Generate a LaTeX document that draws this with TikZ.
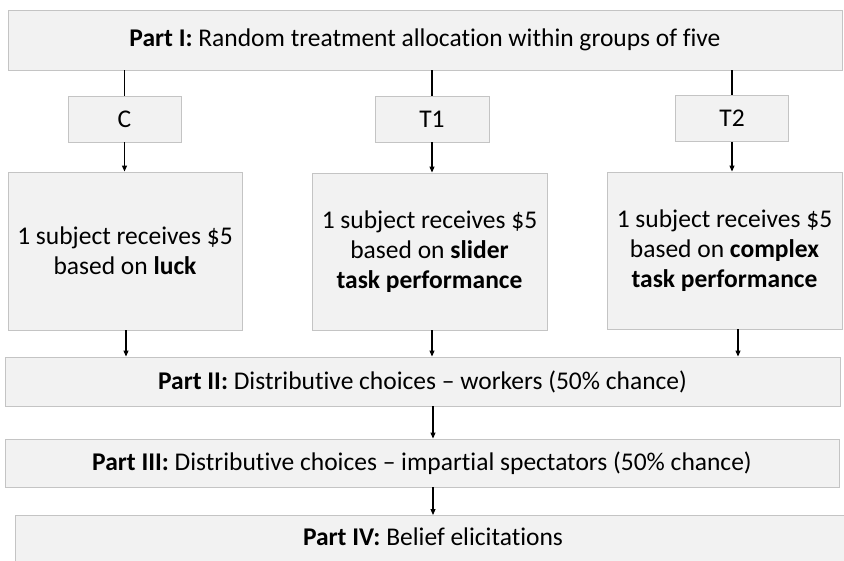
\documentclass[tikz,border=0pt]{standalone}
\usepackage{fontspec}
\setmainfont[Ligatures={NoCommon}]{Carlito}
\usetikzlibrary{arrows.meta,calc}
\definecolor{boxfill}{HTML}{F2F2F2}
\definecolor{boxline}{HTML}{C4C4C4}
\tikzset{
  box/.style={draw=boxline, fill=boxfill, line width=0.9pt, inner sep=0pt, align=center,
    font=\fontsize{25.5}{30}\selectfont},
  link/.style={line width=1.1pt, black},
  arr/.style={link, -{Triangle[length=6pt,width=5pt]}},
}
\begin{document}
\begin{tikzpicture}[x=1pt,y=-1pt]
\useasboundingbox (0,0) rectangle (844,560);
\begin{scope}
\clip (0,0) rectangle (844,560);
\node[box, minimum width=834pt, minimum height=60pt] (p1) at (425,40) {\textbf{Part I:} Random treatment allocation within groups of five};
\node[box, minimum width=113pt, minimum height=46pt] (c) at (124.5,119) {C};
\node[box, minimum width=114pt, minimum height=46pt] (t1) at (432,119) {T1};
\node[box, minimum width=113pt, minimum height=46pt] (t2) at (732,118.5) {T2};
\node[box, minimum width=234pt, minimum height=158pt] (bc) at (125,251) {1 subject receives \$5\\based on \textbf{luck}};
\node[box, minimum width=235pt, minimum height=157pt] (bt1) at (429.5,251.5) {1 subject receives \$5\\based on \textbf{slider}\\\textbf{task performance}};
\node[box, minimum width=235pt, minimum height=157pt] (bt2) at (724.5,250.5) {1 subject receives \$5\\based on \textbf{complex}\\\textbf{task performance}};
\node[box, minimum width=835pt, minimum height=49pt] (p2) at (422.5,381.5) {\textbf{Part II:} Distributive choices -- workers (50\% chance)};
\node[box, minimum width=834pt, minimum height=48pt] (p3) at (422,463) {\textbf{Part III:} Distributive choices -- impartial spectators (50\% chance)};
\node[box, minimum width=840pt, minimum height=60pt, anchor=north west] (p4) at (15,515) {};
\node[font=\fontsize{25.5}{30}\selectfont] (p4t) at (433,537) {\textbf{Part IV:} Belief elicitations};
\end{scope}
\coordinate (xa) at (126,0);
\coordinate (xb) at (432,0);
\coordinate (xc) at (738,0);
\coordinate (xd) at (433,0);
\draw[link] (p1.south -| c.north) -- (c.north);
\draw[link] (p1.south -| t1.north) -- (t1.north);
\draw[link] (p1.south -| t2.north) -- (t2.north);
\draw[arr] (c.south) -- (bc.north -| c.south);
\draw[arr] (t1.south) -- (bt1.north -| t1.south);
\draw[arr] (t2.south) -- (bt2.north -| t2.south);
\draw[arr] (bc.south -| xa) -- (p2.north -| xa);
\draw[arr] (bt1.south -| xb) -- (p2.north -| xb);
\draw[arr] (bt2.south -| xc) -- (p2.north -| xc);
\draw[arr] (p2.south -| xd) -- (p3.north -| xd);
\draw[arr] (p3.south -| xd) -- (p4.north -| xd);
\end{tikzpicture}
\end{document}
